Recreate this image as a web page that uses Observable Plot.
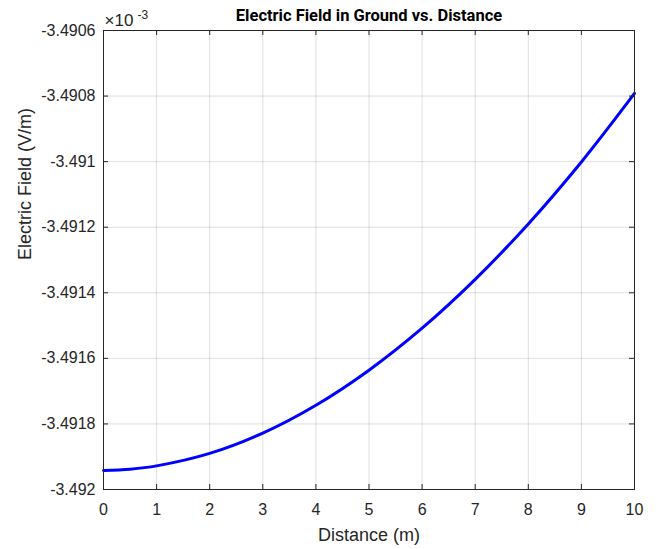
<!DOCTYPE html>
<html><head><meta charset="utf-8">
<script src="https://cdn.jsdelivr.net/npm/d3@7"></script>
<script src="https://cdn.jsdelivr.net/npm/@observablehq/plot@0.6"></script>
<style>body{margin:0;background:#fff}</style>
</head><body><div id="chart"></div>
<script>
// Values in units of 1e-3 V/m (axis shows ×10^-3)
const distance = [0, 0.5, 1, 2, 3, 4, 5, 6, 7, 8, 9, 10];
const field = [-3.491942, -3.491938, -3.491928, -3.491890, -3.491828, -3.491743, -3.491636, -3.491508, -3.491359, -3.491190, -3.491001, -3.490792];
const xTicks = [0, 1, 2, 3, 4, 5, 6, 7, 8, 9, 10];
const yTicks = [-3.492, -3.4918, -3.4916, -3.4914, -3.4912, -3.491, -3.4908, -3.4906];
const title = "Electric Field in Ground vs. Distance";
const xLabel = "Distance (m)";
const yLabel = "Electric Field (V/m)";

const data = distance.map((d, i) => ({x: d, y: field[i]}));
const W = 662, H = 549, mL = 103, mR = 28, mT = 30, mB = 60;
const pw = W - mL - mR, ph = H - mT - mB, tk = 5;
const ink = "#262626";

const chart = Plot.plot({
  width: W, height: H,
  marginLeft: mL, marginRight: mR, marginTop: mT, marginBottom: mB,
  style: {fontFamily: "'Liberation Sans', Arial, sans-serif", background: "#fff", color: ink},
  x: {domain: [0, 10]},
  y: {domain: [-3.492, -3.4906]},
  marks: [
    Plot.gridX(xTicks, {stroke: "#000", strokeOpacity: 0.13}),
    Plot.gridY(yTicks, {stroke: "#000", strokeOpacity: 0.13}),
    Plot.line(data, {x: "x", y: "y", stroke: "#0000ff", strokeWidth: 3, curve: "catmull-rom"}),
    Plot.frame({stroke: ink, strokeWidth: 1}),
    Plot.tickX(xTicks, {x: d => d, insetTop: ph - tk, stroke: ink}),
    Plot.tickX(xTicks, {x: d => d, insetBottom: ph - tk, stroke: ink}),
    Plot.tickY(yTicks, {y: d => d, insetRight: pw - tk, stroke: ink}),
    Plot.tickY(yTicks, {y: d => d, insetLeft: pw - tk, stroke: ink}),
    Plot.axisX(xTicks, {tickSize: 0, tickPadding: 14, fontSize: 16, label: null, fill: ink}),
    Plot.axisY(yTicks, {tickSize: 0, tickPadding: 8, fontSize: 16, label: null, fill: ink, tickFormat: d => String(+d.toFixed(4))}),
    Plot.text([xLabel], {frameAnchor: "bottom", lineAnchor: "middle", dy: 46, fontSize: 18, fill: ink}),
    Plot.text([yLabel], {frameAnchor: "left", lineAnchor: "middle", dx: -78, rotate: -90, fontSize: 18, fill: ink}),
    Plot.text([title], {frameAnchor: "top", lineAnchor: "middle", dy: -15, fontSize: 16.5, fontWeight: "bold", fill: "#000", fontFamily: "Roboto, 'Liberation Sans', Arial, sans-serif"}),
    Plot.text(["×10"], {frameAnchor: "top-left", lineAnchor: "middle", textAnchor: "start", dx: 1, dy: -10, fontSize: 17, fill: ink}),
    Plot.text(["-3"], {frameAnchor: "top-left", lineAnchor: "middle", textAnchor: "start", dx: 34, dy: -15, fontSize: 12, fill: ink})
  ]
});
document.getElementById("chart").appendChild(chart);
</script>
</body></html>
